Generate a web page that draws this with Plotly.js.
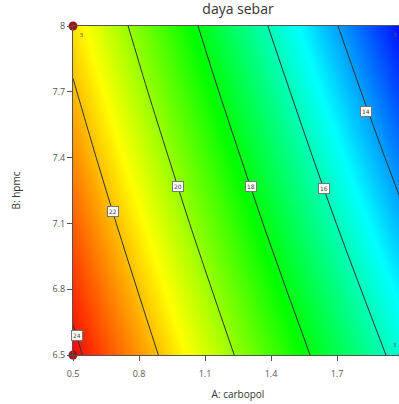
<!DOCTYPE html>
<html>
<head>
<meta charset="utf-8">
<script src="https://cdn.plot.ly/plotly-3.0.1.min.js"></script>
<style>
html,body{margin:0;padding:0;overflow:hidden;background:#fff;}
#chart{width:410px;height:404px;}
</style>
</head>
<body>
<div id="chart"></div>
<script>
// A: carbopol grid values
const carbopol = [0.5, 0.8, 1.1, 1.4, 1.7, 2.0];
// B: hpmc grid values
const hpmc = [6.5, 6.8, 7.1, 7.4, 7.7, 8.0];
// daya sebar response (rows = hpmc, cols = carbopol)
const dayaSebar = [
  [24.25, 22.51, 20.77, 19.03, 17.29, 15.55],
  [23.71, 21.95, 20.18, 18.41, 16.64, 14.87],
  [23.18, 21.38, 19.58, 17.78, 15.98, 14.19],
  [22.64, 20.82, 18.99, 17.16, 15.33, 13.50],
  [22.11, 20.25, 18.39, 16.54, 14.68, 12.82],
  [21.57, 19.69, 17.80, 15.91, 14.03, 12.14]
];
// tick labels
const xTicks = [0.5, 0.8, 1.1, 1.4, 1.7];
const xTickText = ['0.5', '0.8', '1.1', '1.4', '1.7'];
const yTicks = [6.5, 6.8, 7.1, 7.4, 7.7, 8.0];
const yTickText = ['6.5', '6.8', '7.1', '7.4', '7.7', '8'];
// design points
const designX = [0.5, 0.5, 2.0, 2.0];
const designY = [8.0, 6.5, 8.0, 6.5];
const designN = ['3', '3', '3', '3'];
// contour label positions and texts
const labelText = ['24', '22', '20', '18', '16', '14'];
const labelX = [0.518, 0.682, 0.977, 1.309, 1.641, 1.832];
const labelY = [6.591, 7.156, 7.270, 7.266, 7.257, 7.608];

const traces = [
  {
    type: 'contour',
    x: carbopol, y: hpmc, z: dayaSebar,
    zmin: 12.1, zmax: 24.3,
    colorscale: [[0, '#0000ff'], [0.25, '#00ffff'], [0.5, '#00ff00'], [0.75, '#ffff00'], [1, '#ff0000']],
    showscale: false,
    contours: {start: 14, end: 24, size: 2, coloring: 'heatmap', showlabels: false},
    line: {color: '#333', width: 1},
    hoverinfo: 'skip'
  },
  {
    type: 'scatter', mode: 'markers+text',
    x: designX, y: designY, text: designN,
    textposition: ['bottom right', 'top right', 'bottom left', 'top left'],
    textfont: {size: 6, color: '#555'},
    marker: {size: 9, color: '#9b1515'},
    cliponaxis: false,
    hoverinfo: 'skip'
  }
];

const annotations = labelText.map((t, i) => ({
  x: labelX[i], y: labelY[i], text: t, showarrow: false,
  font: {size: 6, color: '#444', family: 'DejaVu Sans'},
  bgcolor: '#fff', bordercolor: '#777', borderwidth: 1, borderpad: 1
}));

const layout = {
  width: 410, height: 404,
  margin: {l: 73, r: 7, t: 26, b: 49},
  paper_bgcolor: '#fff', plot_bgcolor: '#fff',
  showlegend: false,
  title: {text: 'daya sebar', font: {family: 'Open Sans', size: 14, color: '#333'}, x: 0.5, xref: 'paper', y: 0.99, yanchor: 'top'},
  font: {family: 'Open Sans', color: '#444'},
  xaxis: {
    range: [0.5, 2.0], tickvals: xTicks, ticktext: xTickText,
    ticks: 'outside', ticklen: 5, tickcolor: '#555', tickfont: {size: 9, color: '#555'},
    ticklabelstandoff: 5,
    showgrid: false, zeroline: false, showline: true, mirror: true, linecolor: '#555', linewidth: 1,
    title: {text: 'A: carbopol', font: {size: 10, color: '#333'}, standoff: 12}
  },
  yaxis: {
    range: [6.5, 8.0], tickvals: yTicks, ticktext: yTickText,
    ticks: 'outside', ticklen: 5, tickcolor: '#555', tickfont: {size: 9, color: '#555'},
    showgrid: false, zeroline: false, showline: true, mirror: true, linecolor: '#555', linewidth: 1,
    title: {text: 'B: hpmc', font: {size: 10, color: '#333'}, standoff: 30}
  },
  annotations: annotations
};

Plotly.newPlot('chart', traces, layout, {staticPlot: true, displayModeBar: false});
</script>
</body>
</html>
